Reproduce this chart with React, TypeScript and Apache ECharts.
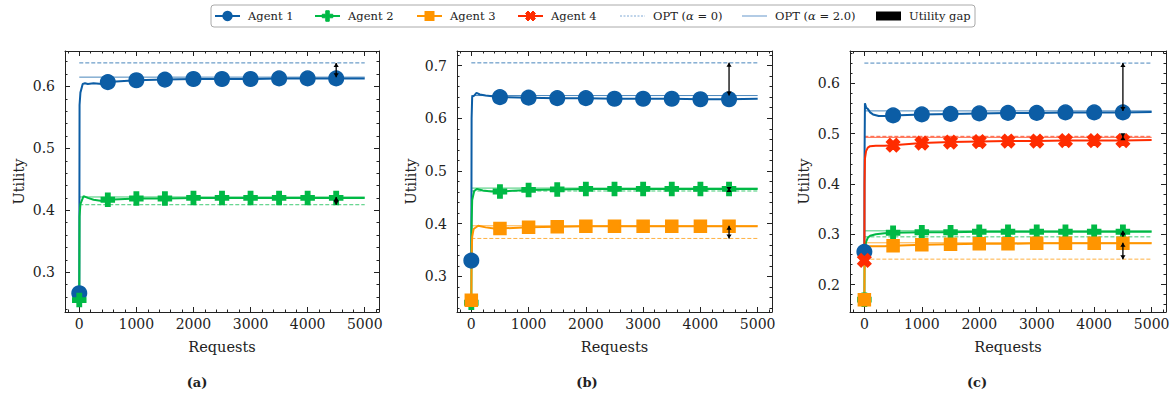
import React, { useEffect, useRef } from "react";
import * as echarts from "echarts";

// ---------------- DATA ----------------
const AGENT_NAMES = ["Agent 1", "Agent 2", "Agent 3", "Agent 4"];
const LEGEND_LABELS = ["Agent 1", "Agent 2", "Agent 3", "Agent 4", "OPT (α = 0)", "OPT (α = 2.0)", "Utility gap"];
const PANEL_CAPTIONS = ["(a)", "(b)", "(c)"];
const X_TICKS = [0, 1000, 2000, 3000, 4000, 5000];
const Y_TICKS_A = [0.3, 0.4, 0.5, 0.6];
const Y_TICKS_B = [0.3, 0.4, 0.5, 0.6, 0.7];
const Y_TICKS_C = [0.2, 0.3, 0.4, 0.5, 0.6];
const GAP_X = 4500;

// Panel (a)
const A1_X = [0, 5, 20, 60, 100, 150, 250, 400, 500, 1000, 1500, 2000, 2500, 3000, 3500, 4000, 4500, 5000];
const A1_Y = [0.266, 0.57, 0.59, 0.604, 0.605, 0.604, 0.605, 0.604, 0.607, 0.610, 0.611, 0.612, 0.612, 0.612, 0.613, 0.613, 0.613, 0.613];
const A2_X = [0, 5, 20, 75, 150, 250, 400, 500, 1000, 1500, 2000, 2500, 3000, 3500, 4000, 4500, 5000];
const A2_Y = [0.255, 0.39, 0.41, 0.423, 0.42, 0.417, 0.415, 0.417, 0.419, 0.419, 0.420, 0.420, 0.420, 0.420, 0.420, 0.420, 0.420];
const A_OPT2 = [0.615, 0.4215];
const A_OPT0 = [0.638, 0.409];

// Panel (b)
const B1_X = [0, 5, 15, 50, 90, 150, 250, 400, 500, 1000, 1500, 2000, 2500, 3000, 3500, 4000, 4500, 5000];
const B1_Y = [0.33, 0.60, 0.641, 0.643, 0.648, 0.645, 0.643, 0.641, 0.640, 0.639, 0.638, 0.638, 0.637, 0.637, 0.637, 0.636, 0.636, 0.637];
const B2_X = [0, 5, 15, 50, 100, 200, 350, 500, 1000, 1500, 2000, 2500, 3000, 3500, 4000, 4500, 5000];
const B2_Y = [0.25, 0.40, 0.445, 0.462, 0.466, 0.463, 0.461, 0.461, 0.464, 0.465, 0.466, 0.466, 0.466, 0.466, 0.466, 0.466, 0.466];
const B3_X = [0, 5, 15, 40, 120, 250, 400, 500, 1000, 1500, 2000, 2500, 3000, 3500, 4000, 4500, 5000];
const B3_Y = [0.255, 0.34, 0.375, 0.39, 0.396, 0.393, 0.391, 0.391, 0.393, 0.394, 0.395, 0.395, 0.395, 0.395, 0.395, 0.395, 0.395];
const B_OPT2 = [0.643, 0.4675, 0.396];
const B_OPT0 = [0.705, 0.462, 0.372];

// Panel (c)
const C1_X = [0, 3, 10, 30, 60, 100, 150, 250, 400, 500, 1000, 1500, 2000, 2500, 3000, 3500, 4000, 4500, 5000];
const C1_Y = [0.265, 0.45, 0.560, 0.552, 0.549, 0.542, 0.538, 0.535, 0.535, 0.536, 0.538, 0.539, 0.540, 0.541, 0.541, 0.542, 0.542, 0.542, 0.543];
const C2_X = [0, 3, 10, 30, 60, 100, 200, 350, 500, 1000, 1500, 2000, 2500, 3000, 3500, 4000, 4500, 5000];
const C2_Y = [0.17, 0.24, 0.27, 0.285, 0.293, 0.297, 0.300, 0.302, 0.303, 0.304, 0.304, 0.305, 0.305, 0.305, 0.305, 0.305, 0.305, 0.305];
const C3_X = [0, 3, 10, 30, 60, 100, 200, 350, 500, 1000, 1500, 2000, 2500, 3000, 3500, 4000, 4500, 5000];
const C3_Y = [0.17, 0.23, 0.262, 0.272, 0.275, 0.276, 0.276, 0.276, 0.277, 0.279, 0.280, 0.281, 0.281, 0.282, 0.282, 0.282, 0.282, 0.282];
const C4_X = [0, 3, 10, 30, 60, 100, 200, 350, 500, 1000, 1500, 2000, 2500, 3000, 3500, 4000, 4500, 5000];
const C4_Y = [0.248, 0.40, 0.45, 0.465, 0.472, 0.475, 0.476, 0.476, 0.477, 0.481, 0.483, 0.484, 0.485, 0.485, 0.486, 0.486, 0.486, 0.487];
const C_OPT2 = [0.545, 0.3067, 0.283, 0.4925];
const C_OPT0 = [0.640, 0.2948, 0.2505, 0.4945];

// ---------------- STYLE / LAYOUT ----------------
const FONT = "DejaVu Serif";
const INK = "#222";
const COLORS = ["#0C5DA5", "#00B945", "#FF9500", "#FF2C00"];
const OPT_LEGEND_COLOR = "#7FA8D4";
const PLUS = [[-1, -3], [1, -3], [1, -1], [3, -1], [3, 1], [1, 1], [1, 3], [-1, 3], [-1, 1], [-3, 1], [-3, -1], [-1, -1]];
const XSHAPE = [[-1, -2], [0, -1], [1, -2], [2, -1], [1, 0], [2, 1], [1, 2], [0, 1], [-1, 2], [-2, 1], [-1, 0], [-2, -1]];
const toPath = (pts: number[][]) => "path://M" + pts.map((p) => p[0] + "," + p[1]).join("L") + "Z";
const SYMBOLS = ["circle", toPath(PLUS), "rect", toPath(XSHAPE)];
const SYMBOL_SIZES = [14.5, 13, 12, 13];

const X_MIN = -250;
const X_MAX = 5250;
const GRID_TOP = 51;
const GRID_H = 261;

const PANELS = [
  { left: 65, width: 314, yMin: 0.2358, yMax: 0.6572, yTicks: Y_TICKS_A, xs: [A1_X, A2_X], ys: [A1_Y, A2_Y], opt2: A_OPT2, opt0: A_OPT0 },
  { left: 457, width: 315, yMin: 0.2325, yMax: 0.7275, yTicks: Y_TICKS_B, xs: [B1_X, B2_X, B3_X], ys: [B1_Y, B2_Y, B3_Y], opt2: B_OPT2, opt0: B_OPT0 },
  { left: 850, width: 316, yMin: 0.1455, yMax: 0.664, yTicks: Y_TICKS_C, xs: [C1_X, C2_X, C3_X, C4_X], ys: [C1_Y, C2_Y, C3_Y, C4_Y], opt2: C_OPT2, opt0: C_OPT0 },
];
const CAPTION_X = [197, 587, 977];

function minorValues(lo: number, hi: number, step: number, majorStep: number) {
  const out: number[] = [];
  const start = Math.ceil(lo / step - 1e-9);
  const end = Math.floor(hi / step + 1e-9);
  for (let i = start; i <= end; i++) {
    const v = +(i * step).toFixed(6);
    const r = v / majorStep;
    if (Math.abs(r - Math.round(r)) > 1e-6) out.push(v);
  }
  return out;
}

function buildOption() {
  const grid: any[] = [];
  const xAxis: any[] = [];
  const yAxis: any[] = [];
  const series: any[] = [];
  const graphic: any[] = [];
  const tickLine = { color: INK, width: 1 };

  PANELS.forEach((p, gi) => {
    grid.push({ left: p.left, top: GRID_TOP, width: p.width, height: GRID_H, containLabel: false });
    const xMinor = minorValues(X_MIN, X_MAX, 200, 1000);
    const yMinor = minorValues(p.yMin, p.yMax, 0.02, 0.1);
    const baseX = { type: "value", gridIndex: gi, min: X_MIN, max: X_MAX, splitLine: { show: false }, axisPointer: { show: false } };
    const baseY = { type: "value", gridIndex: gi, min: p.yMin, max: p.yMax, splitLine: { show: false }, axisPointer: { show: false } };
    const mainX = xAxis.length;
    xAxis.push({
      ...baseX, position: "bottom",
      axisLine: { show: true, onZero: false, lineStyle: tickLine },
      axisTick: { show: true, inside: true, length: 5, customValues: X_TICKS, lineStyle: tickLine },
      axisLabel: { show: true, customValues: X_TICKS, formatter: (v: number) => String(v), fontFamily: FONT, fontSize: 14, color: INK, margin: 5 },
      name: "Requests", nameLocation: "middle", nameGap: 27,
      nameTextStyle: { fontFamily: FONT, fontSize: 14.5, color: INK },
    });
    xAxis.push({ ...baseX, position: "bottom", axisLine: { show: false, onZero: false }, axisTick: { show: true, inside: true, length: 2.5, customValues: xMinor, lineStyle: tickLine }, axisLabel: { show: false } });
    xAxis.push({ ...baseX, position: "top", axisLine: { show: true, onZero: false, lineStyle: tickLine }, axisTick: { show: true, inside: true, length: 5, customValues: X_TICKS, lineStyle: tickLine }, axisLabel: { show: false } });
    xAxis.push({ ...baseX, position: "top", axisLine: { show: false, onZero: false }, axisTick: { show: true, inside: true, length: 2.5, customValues: xMinor, lineStyle: tickLine }, axisLabel: { show: false } });

    const mainY = yAxis.length;
    yAxis.push({
      ...baseY, position: "left",
      axisLine: { show: true, onZero: false, lineStyle: tickLine },
      axisTick: { show: true, inside: true, length: 5, customValues: p.yTicks, lineStyle: tickLine },
      axisLabel: { show: true, customValues: p.yTicks, formatter: (v: number) => v.toFixed(1), fontFamily: FONT, fontSize: 14, color: INK, margin: 10 },
      name: "Utility", nameLocation: "middle", nameGap: 39,
      nameTextStyle: { fontFamily: FONT, fontSize: 14.5, color: INK },
    });
    yAxis.push({ ...baseY, position: "left", axisLine: { show: false, onZero: false }, axisTick: { show: true, inside: true, length: 2.5, customValues: yMinor, lineStyle: tickLine }, axisLabel: { show: false } });
    yAxis.push({ ...baseY, position: "right", axisLine: { show: true, onZero: false, lineStyle: tickLine }, axisTick: { show: true, inside: true, length: 5, customValues: p.yTicks, lineStyle: tickLine }, axisLabel: { show: false } });
    yAxis.push({ ...baseY, position: "right", axisLine: { show: false, onZero: false }, axisTick: { show: true, inside: true, length: 2.5, customValues: yMinor, lineStyle: tickLine }, axisLabel: { show: false } });

    // OPT lines
    p.opt2.forEach((v, k) => {
      series.push({
        type: "line", name: "OPT (α = 2.0)", xAxisIndex: mainX, yAxisIndex: mainY, symbol: "none", z: 2,
        data: [[0, v], [5000, v]],
        lineStyle: { color: COLORS[k], width: 1, opacity: 0.75 },
      });
    });
    p.opt0.forEach((v, k) => {
      series.push({
        type: "line", name: "OPT (α = 0)", xAxisIndex: mainX, yAxisIndex: mainY, symbol: "none", z: 2,
        data: [[0, v], [5000, v]],
        lineStyle: { color: COLORS[k], width: 1, type: [4, 2], opacity: 0.75 },
      });
    });
    // Agents
    p.xs.forEach((xsArr, k) => {
      const ysArr = p.ys[k];
      series.push({
        type: "line", name: AGENT_NAMES[k], xAxisIndex: mainX, yAxisIndex: mainY, z: 3,
        symbol: SYMBOLS[k], symbolSize: SYMBOL_SIZES[k],
        itemStyle: { color: COLORS[k], opacity: 1, borderColor: COLORS[k], borderWidth: 1.5 },
        lineStyle: { color: COLORS[k], width: 2 },
        data: xsArr.map((x, i) => (x % 500 === 0 && x <= 4500 ? [x, ysArr[i]] : { value: [x, ysArr[i]], symbol: "none" })),
      });
    });
    // Utility gap arrows
    series.push({
      type: "custom", name: "Utility gap", xAxisIndex: mainX, yAxisIndex: mainY, z: 5,
      data: p.opt2.map((v, k) => [GAP_X, v, p.opt0[k]]),
      renderItem: (params: any, api: any) => {
        const x = api.value(0);
        const p1 = api.coord([x, api.value(1)]);
        const p2 = api.coord([x, api.value(2)]);
        const dir = p2[1] > p1[1] ? 1 : -1;
        const h = 4, w = 2.6;
        return {
          type: "group",
          children: [
            { type: "line", shape: { x1: p1[0], y1: p1[1], x2: p2[0], y2: p2[1] }, style: { stroke: "#000", lineWidth: 1.3 } },
            { type: "polygon", shape: { points: [[p2[0], p2[1]], [p2[0] - w, p2[1] - dir * h], [p2[0] + w, p2[1] - dir * h]] }, style: { fill: "#000" } },
            { type: "polygon", shape: { points: [[p1[0], p1[1]], [p1[0] - w, p1[1] + dir * h], [p1[0] + w, p1[1] + dir * h]] }, style: { fill: "#000" } },
          ],
        };
      },
    });

    graphic.push({
      type: "text", x: CAPTION_X[gi], y: 382,
      style: { text: PANEL_CAPTIONS[gi], font: "bold 13px 'DejaVu Serif'", fill: INK, align: "center", verticalAlign: "middle" },
    });
  });

  // Legend (manual)
  const LY = 16;
  const iconX = [215, 315, 417, 518, 620, 742, 876];
  graphic.push({ type: "rect", shape: { x: 211, y: 5, width: 764, height: 22, r: 3 }, style: { fill: "#fff", stroke: "#aaa", lineWidth: 1 }, z: 10 });
  LEGEND_LABELS.forEach((label, i) => {
    const x0 = iconX[i];
    const cx = x0 + 12.5;
    if (i < 4) {
      graphic.push({ type: "line", shape: { x1: x0, y1: LY, x2: x0 + 25, y2: LY }, style: { stroke: COLORS[i], lineWidth: 2 }, z: 11 });
      if (i === 0) graphic.push({ type: "circle", shape: { cx, cy: LY, r: 5.2 }, style: { fill: COLORS[i] }, z: 12 });
      if (i === 1) graphic.push({ type: "polygon", shape: { points: PLUS.map((q) => [cx + q[0] * 1.75, LY + q[1] * 1.75]) }, style: { fill: COLORS[i], stroke: COLORS[i], lineWidth: 1 }, z: 12 });
      if (i === 2) graphic.push({ type: "rect", shape: { x: cx - 5, y: LY - 5, width: 10, height: 10 }, style: { fill: COLORS[i] }, z: 12 });
      if (i === 3) graphic.push({ type: "polygon", shape: { points: XSHAPE.map((q) => [cx + q[0] * 2.5, LY + q[1] * 2.5]) }, style: { fill: COLORS[i], stroke: COLORS[i], lineWidth: 1 }, z: 12 });
    } else if (i === 4) {
      graphic.push({ type: "line", shape: { x1: x0, y1: LY, x2: x0 + 25, y2: LY }, style: { stroke: OPT_LEGEND_COLOR, lineWidth: 1, lineDash: [2, 1.5] }, z: 11 });
    } else if (i === 5) {
      graphic.push({ type: "line", shape: { x1: x0, y1: LY, x2: x0 + 25, y2: LY }, style: { stroke: OPT_LEGEND_COLOR, lineWidth: 1.2 }, z: 11 });
    } else {
      graphic.push({ type: "rect", shape: { x: x0, y: LY - 4.5, width: 25, height: 9 }, style: { fill: "#000" }, z: 11 });
    }
    const m = label.match(/^(.*?)(α)(.*)$/);
    const text = m ? `{n|${m[1]}}{i|${m[2]}}{n|${m[3]}}` : `{n|${label}}`;
    graphic.push({
      type: "text", x: x0 + 33, y: LY, z: 12,
      style: {
        text, fill: INK, verticalAlign: "middle", align: "left",
        rich: {
          n: { fontFamily: FONT, fontSize: 11.5, fill: INK },
          i: { fontFamily: FONT, fontSize: 11.5, fontStyle: "italic", fill: INK },
        },
      },
    });
  });

  return {
    animation: false,
    backgroundColor: "#fff",
    textStyle: { fontFamily: FONT },
    grid, xAxis, yAxis, series, graphic,
  };
}

export default function App() {
  const ref = useRef<HTMLDivElement>(null);
  useEffect(() => {
    if (!ref.current) return;
    const chart = echarts.init(ref.current, null, { renderer: "svg" });
    chart.setOption(buildOption() as any);
    return () => chart.dispose();
  }, []);
  return <div ref={ref} style={{ position: "fixed", left: 0, top: 0, width: 1175, height: 394, background: "#fff" }} />;
}
